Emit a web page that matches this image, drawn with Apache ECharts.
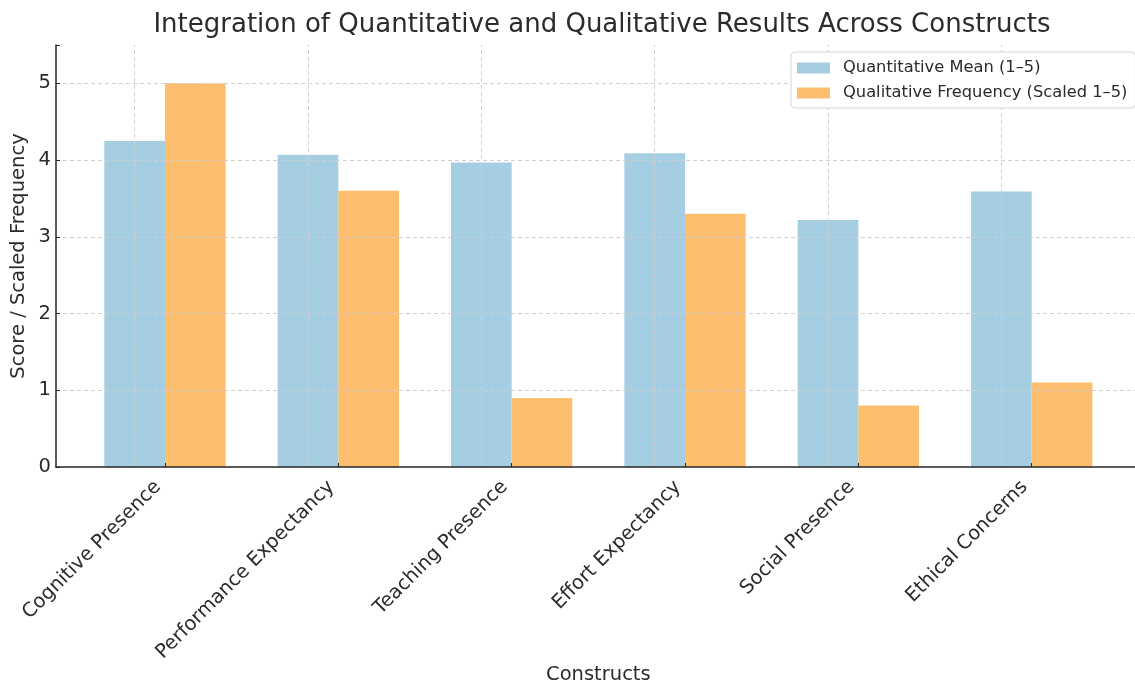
<!DOCTYPE html>
<html>
<head>
<meta charset="utf-8">
<style>
  html, body { margin: 0; padding: 0; background: #fff; }
  #chart { width: 1135px; height: 685px; }
</style>
<script src="https://cdn.jsdelivr.net/npm/echarts@6/dist/echarts.min.js"></script>
</head>
<body>
<div id="chart"></div>
<script>
// Constructs compared on the x axis
const constructs = [
  'Cognitive Presence',
  'Performance Expectancy',
  'Teaching Presence',
  'Effort Expectancy',
  'Social Presence',
  'Ethical Concerns'
];
// Survey means on a 1–5 scale
const quantitativeMean = [4.25, 4.07, 3.97, 4.09, 3.22, 3.59];
// Interview code frequencies rescaled to 1–5
const qualitativeFreq = [5.0, 3.6, 0.9, 3.3, 0.8, 1.1];
const yTicks = [0, 1, 2, 3, 4, 5];

const FONT = 'DejaVu Sans';
const TEXT = '#2b2b2b';
const AXIS = '#262626';
const GRID_LINE = { color: '#cfcfcf', width: 1, type: [4, 3] };

const chart = echarts.init(document.getElementById('chart'), null, { renderer: 'canvas' });

const plotTop = 45, plotBottom = 218;

chart.setOption({
  backgroundColor: '#ffffff',
  animation: false,
  title: {
    text: 'Integration of Quantitative and Qualitative Results Across Constructs',
    left: 597,
    textAlign: 'center',
    top: 7,
    textStyle: { fontFamily: FONT, fontSize: 26, fontWeight: 'normal', color: TEXT }
  },
  legend: {
    orient: 'vertical',
    left: 791,
    top: 52,
    z: 20,
    itemWidth: 33,
    itemHeight: 11,
    itemGap: 9,
    padding: [8, 8, 7, 6],
    icon: 'rect',
    borderColor: '#d6d6d6',
    borderWidth: 1,
    borderRadius: 4,
    backgroundColor: '#ffffff',
    textStyle: { fontFamily: FONT, fontSize: 16.3, color: TEXT, padding: [0, 0, 0, 8] },
    data: ['Quantitative Mean (1–5)', 'Qualitative Frequency (Scaled 1–5)']
  },
  grid: [
    // outer frame: spines, y labels, horizontal grid lines
    { left: 56, right: 0, top: plotTop, bottom: plotBottom, containLabel: false, outerBoundsMode: 'none' },
    // inner band area where the grouped bars sit
    { left: 78.3, right: 16.6, top: plotTop, bottom: plotBottom, containLabel: false, outerBoundsMode: 'none' }
  ],
  xAxis: [
    {
      gridIndex: 0, type: 'value', min: 0, max: 1, z: 10,
      axisLine: { show: true, lineStyle: { color: AXIS, width: 1.5 } },
      axisTick: { show: false }, axisLabel: { show: false }, splitLine: { show: false }
    },
    {
      gridIndex: 1, type: 'category', data: constructs, z: 10,
      axisLine: { show: false },
      axisTick: { show: true, alignWithLabel: true, inside: true, length: 4,
                  lineStyle: { color: AXIS, width: 1 } },
      axisLabel: {
        rotate: 45, margin: 24, interval: 0, verticalAlign: 'bottom',
        fontFamily: FONT, fontSize: 19.5, color: TEXT
      },
      splitLine: { show: false },
      name: 'Constructs',
      nameLocation: 'middle',
      nameGap: 198,
      nameMoveOverlap: false,
      nameTextStyle: { fontFamily: FONT, fontSize: 19.5, color: TEXT }
    }
  ],
  yAxis: [
    {
      gridIndex: 0, type: 'value', min: 0, max: 5.5, interval: 1, z: 10,
      axisLine: { show: true, lineStyle: { color: AXIS, width: 1.5 } },
      axisTick: { show: true, inside: true, length: 4, lineStyle: { color: AXIS, width: 1 } },
      axisLabel: {
        margin: 5, fontFamily: FONT, fontSize: 19.5, color: TEXT,
        formatter: v => (yTicks.includes(v) ? String(v) : '')
      },
      splitLine: { show: true, showMinLine: false, showMaxLine: false, lineStyle: GRID_LINE },
      name: 'Score / Scaled Frequency',
      nameLocation: 'middle',
      nameGap: 27,
      nameMoveOverlap: false,
      nameTextStyle: { fontFamily: FONT, fontSize: 19.5, color: TEXT }
    },
    {
      gridIndex: 1, type: 'value', min: 0, max: 5.5, interval: 1, show: false,
      splitLine: { show: false }
    }
  ],
  series: [
    {
      name: 'Quantitative Mean (1–5)',
      type: 'bar',
      xAxisIndex: 1, yAxisIndex: 1,
      data: quantitativeMean,
      barWidth: '35%',
      barGap: '0%',
      itemStyle: { color: '#a6cee3' },
      z: 2,
      markLine: {
        silent: true,
        symbol: 'none',
        label: { show: false },
        lineStyle: GRID_LINE,
        z: 9,
        data: constructs.map(c => ({ xAxis: c }))
      }
    },
    {
      name: 'Qualitative Frequency (Scaled 1–5)',
      type: 'bar',
      xAxisIndex: 1, yAxisIndex: 1,
      data: qualitativeFreq,
      barWidth: '35%',
      barGap: '0%',
      itemStyle: { color: '#fdbf6f' },
      z: 2
    }
  ]
});
</script>
</body>
</html>
